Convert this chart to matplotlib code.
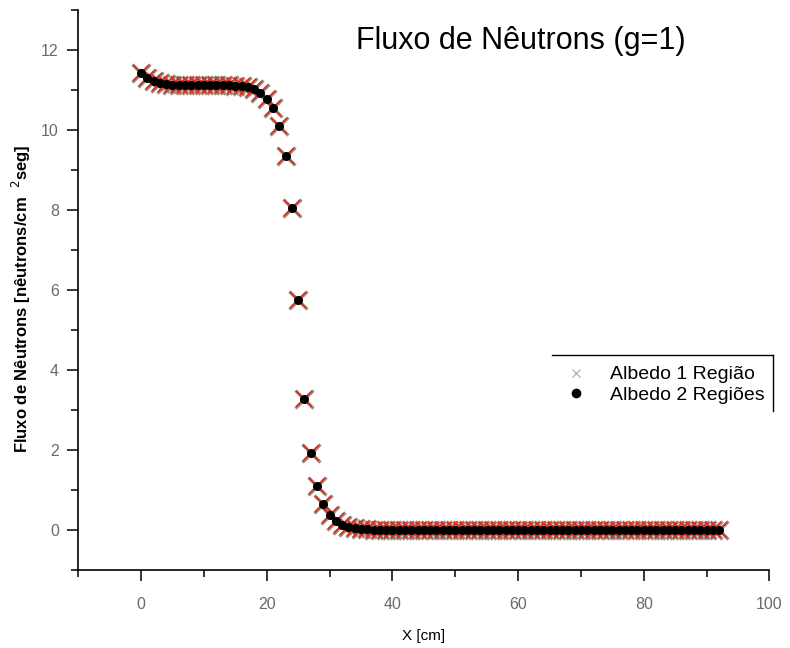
import numpy as np
import matplotlib
matplotlib.use('Agg')
import matplotlib.pyplot as plt
import matplotlib.lines as mlines
from matplotlib.ticker import MultipleLocator

plt.rcParams['font.family'] = ['Liberation Sans', 'DejaVu Sans']

# data (x in cm, flux)
xPos = np.arange(0, 93)
fluxAlbedo1 = [11.42, 11.30, 11.22, 11.18, 11.15, 11.13, 11.12, 11.11, 11.11, 11.11,
               11.11, 11.11, 11.11, 11.11, 11.11, 11.10, 11.09, 11.07, 11.02, 10.93,
               10.78, 10.55, 10.10, 9.35, 8.05, 5.75, 3.28, 1.93, 1.10, 0.65,
               0.37, 0.22, 0.13, 0.08, 0.05, 0.03, 0.02, 0.01, 0.01, 0.01,
               0.01, 0.01, 0.01, 0.01, 0.01, 0.01, 0.01, 0.01, 0.01, 0.01,
               0.01, 0.01, 0.01, 0.01, 0.01, 0.01, 0.01, 0.01, 0.01, 0.01,
               0.01, 0.01, 0.01, 0.01, 0.01, 0.01, 0.01, 0.01, 0.01, 0.01,
               0.01, 0.01, 0.01, 0.01, 0.01, 0.01, 0.01, 0.01, 0.01, 0.01,
               0.01, 0.01, 0.01, 0.01, 0.01, 0.01, 0.01, 0.01, 0.01, 0.01,
               0.01, 0.01, 0.01]
fluxAlbedo2 = [11.42, 11.30, 11.22, 11.18, 11.15, 11.13, 11.12, 11.11, 11.11, 11.11,
               11.11, 11.11, 11.11, 11.11, 11.11, 11.10, 11.09, 11.07, 11.02, 10.93,
               10.78, 10.55, 10.10, 9.35, 8.05, 5.75, 3.28, 1.93, 1.10, 0.65,
               0.37, 0.22, 0.13, 0.08, 0.05, 0.03, 0.02, 0.01, 0.01, 0.01,
               0.01, 0.01, 0.01, 0.01, 0.01, 0.01, 0.01, 0.01, 0.01, 0.01,
               0.01, 0.01, 0.01, 0.01, 0.01, 0.01, 0.01, 0.01, 0.01, 0.01,
               0.01, 0.01, 0.01, 0.01, 0.01, 0.01, 0.01, 0.01, 0.01, 0.01,
               0.01, 0.01, 0.01, 0.01, 0.01, 0.01, 0.01, 0.01, 0.01, 0.01,
               0.01, 0.01, 0.01, 0.01, 0.01, 0.01, 0.01, 0.01, 0.01, 0.01,
               0.01, 0.01, 0.01]
seriesNames = ['Albedo 1 Região', 'Albedo 2 Regiões']

# colours
crossRed = '#dc2c1c'
crossEdge = '#a08a80'
tickGrey = '#6a6a6a'

fig = plt.figure(figsize=(7.9, 6.48), dpi=100)
ax = fig.add_axes([0.099, 0.12, 0.875, 0.865])

# crosses: a lighter wider one below, red on top
ax.plot(xPos, fluxAlbedo1, linestyle='none', marker='x', markersize=13,
        markeredgewidth=2.3, color=crossEdge, zorder=2)
ax.plot(xPos, fluxAlbedo1, linestyle='none', marker='x', markersize=12,
        markeredgewidth=1.2, color=crossRed, zorder=3)
ax.plot(xPos, fluxAlbedo2, linestyle='none', marker='o', markersize=5.5,
        color='black', zorder=4)

ax.set_xlim(-10, 100)
ax.set_ylim(-1, 13)
ax.xaxis.set_minor_locator(MultipleLocator(10))
ax.yaxis.set_minor_locator(MultipleLocator(1))
ax.set_xticks([0, 20, 40, 60, 80, 100])
ax.set_yticks([0, 2, 4, 6, 8, 10, 12])

for side in ['top', 'right']:
    ax.spines[side].set_visible(False)
for side in ['left', 'bottom']:
    ax.spines[side].set_linewidth(1.2)

ax.tick_params(which='major', direction='out', length=8, width=1.1,
               labelsize=11.5, labelcolor=tickGrey)
ax.tick_params(which='minor', direction='out', length=5, width=1.1)
ax.tick_params(axis='x', which='major', pad=11)
ax.tick_params(axis='y', which='major', pad=6)

ax.set_xlabel('X [cm]', fontsize=11)
ax.xaxis.set_label_coords(0.5, -0.105)
ax.set_ylabel('Fluxo de Nêutrons [nêutrons/cm  $^{2}$seg]', fontsize=12,
              fontweight='bold')
ax.yaxis.set_label_coords(-0.066, 0.485)

ax.text(0.64, 0.945, 'Fluxo de Nêutrons (g=1)', transform=ax.transAxes,
        ha='center', va='center', fontsize=22)

# legend, framed only on top and right like the original
h1 = mlines.Line2D([], [], linestyle='none', marker='x', markersize=6,
                   markeredgewidth=1.0, color='#b8b8b8')
h2 = mlines.Line2D([], [], linestyle='none', marker='o', markersize=6, color='black')
leg = ax.legend([h1, h2], seriesNames, loc='upper left',
                bbox_to_anchor=(0.699, 0.452), bbox_transform=fig.transFigure,
                fontsize=14, frameon=False, borderpad=0.55, handlelength=1.3,
                handletextpad=1.1, labelspacing=0.15, borderaxespad=0)

fig.canvas.draw()
bb = leg.get_window_extent().transformed(fig.transFigure.inverted())
fig.add_artist(mlines.Line2D([bb.x0, 0.979], [bb.y1, bb.y1], color='black',
                             linewidth=1.0, transform=fig.transFigure))
fig.add_artist(mlines.Line2D([0.979, 0.979], [bb.y1, bb.y0 + 0.005], color='black',
                             linewidth=1.0, transform=fig.transFigure))

fig.savefig('out.png', dpi=100)
